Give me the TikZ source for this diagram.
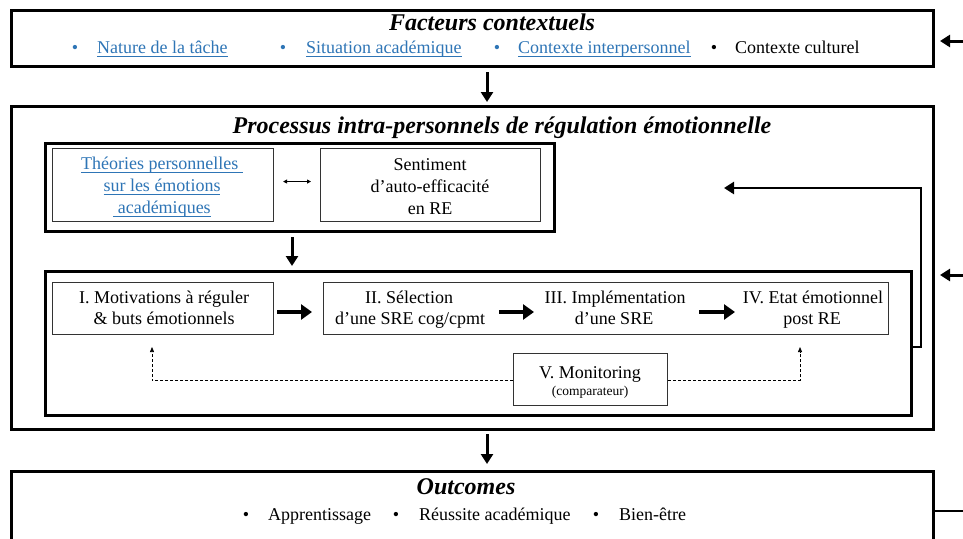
\documentclass[tikz,border=0pt]{standalone}
\usepackage{fontspec}
\setmainfont{Liberation Serif}
\usetikzlibrary{arrows.meta,calc}
\definecolor{linkblue}{RGB}{46,117,182}
\newcommand\ulb[1]{\underline{\smash{#1}\rule[-1.6pt]{0pt}{1pt}}}
\begin{document}
\begin{tikzpicture}[x=1pt,y=-1pt,
  bigbox/.style={draw, line width=2.7pt, anchor=north west, inner sep=0pt},
  grpbox/.style={draw, line width=2.5pt, anchor=north west, inner sep=0pt},
  thinbox/.style={draw=black!80, line width=1.1pt, anchor=north west, inner sep=0pt},
  body/.style={font=\fontsize{18}{22}\selectfont, inner sep=0pt, anchor=base},
  small/.style={font=\fontsize{13.5}{16}\selectfont, inner sep=0pt, anchor=base},
  ttl/.style={font=\fontsize{24}{28}\selectfont\bfseries\itshape, inner sep=0pt, anchor=base},
  blue/.style={text=linkblue},
  fatarrow/.style={line width=3pt, -{Triangle[length=10pt,width=12pt]}},
  rowarrow/.style={line width=4.2pt, -{Triangle[length=11pt,width=15pt]}},
  dasharrow/.style={line width=0.7pt, dash pattern=on 3pt off 2pt, -{Triangle[length=5pt,width=4pt]}},
  duoarrow/.style={line width=0.9pt, {Triangle[length=4pt,width=4pt]}-{Triangle[length=4pt,width=4pt]}},
  loopline/.style={line width=2.7pt},
]
\clip (0,0) rectangle (963,538);
\fill[white] (0,0) rectangle (963,538);

% ---------- Facteurs contextuels ----------
\node[bigbox, minimum width=922pt, minimum height=56pt] (top) at (10,9) {};
\node[ttl] (toptitle) at (492,30) {Facteurs contextuels};
\node[body, blue] (b1) at (75,53) {•};
\node[body, blue, anchor=base west] (t1) at (97,53) {\ulb{Nature de la tâche}};
\node[body, blue] (b2) at (283,53) {•};
\node[body, blue, anchor=base west] (t2) at (306,53) {\ulb{Situation académique}};
\node[body, blue] (b3) at (497,53) {•};
\node[body, blue, anchor=base west] (t3) at (518,53) {\ulb{Contexte interpersonnel}};
\node[body] (b4) at (714,53) {•};
\node[body, anchor=base west] (t4) at (735,53) {Contexte culturel};

% ---------- Processus ----------
\node[bigbox, minimum width=922pt, minimum height=323pt] (main) at (10,105) {};
\node[ttl] (maintitle) at (502,133) {Processus intra-personnels de régulation émotionnelle};

\node[grpbox, minimum width=509pt, minimum height=88pt] (grp1) at (44,142) {};
\node[thinbox, minimum width=221pt, minimum height=73pt] (theo) at (52,148) {};
\node[body, blue] (theo1) at (162,169) {\ulb{Théories personnelles\ }};
\node[body, blue] (theo2) at (162,191) {\ulb{sur les émotions}};
\node[body, blue] (theo3) at (162,213) {\ulb{\ académiques}};
\node[thinbox, minimum width=220pt, minimum height=73pt] (sent) at (320,148) {};
\node[body] (sent1) at (430,170) {Sentiment};
\node[body] (sent2) at (430,192) {d’auto-efficacité};
\node[body] (sent3) at (430,214) {en RE};
\draw[duoarrow] ([xshift=9pt,yshift=3.5pt]theo.east) -- ([xshift=-9pt,yshift=3.5pt]sent.west);

\coordinate (g1a) at (292,237);
\coordinate (g1b) at (292,266);
\draw[fatarrow] (g1a) -- (g1b);

\node[grpbox, minimum width=866pt, minimum height=144pt] (grp2) at (44,270) {};
\node[thinbox, minimum width=221pt, minimum height=52pt] (s1) at (52,282) {};
\node[body] (s1a) at (164,303) {I. Motivations à réguler};
\node[body] (s1b) at (164,324) {\& buts émotionnels};
\node[thinbox, minimum width=565pt, minimum height=52pt] (steps) at (323,282) {};
\node[body] (s2a) at (409,303) {II. Sélection};
\node[body] (s2b) at (410,324) {d’une SRE cog/cpmt};
\node[body] (s3a) at (615,303) {III. Implémentation};
\node[body] (s3b) at (614,324) {d’une SRE};
\node[body] (s4a) at (813,303) {IV. Etat émotionnel};
\node[body] (s4b) at (812,324) {post RE};

\coordinate (a1s) at (277,312);
\coordinate (a1e) at (312,312);
\draw[rowarrow] (a1s) -- (a1e);
\coordinate (a2s) at (499,312);
\coordinate (a2e) at (534,312);
\draw[rowarrow] (a2s) -- (a2e);
\coordinate (a3s) at (699,312);
\coordinate (a3e) at (735,312);
\draw[rowarrow] (a3s) -- (a3e);

\node[thinbox, minimum width=154pt, minimum height=52pt] (mon) at (513,353) {};
\node[body] (mon1) at (590,378) {V. Monitoring};
\node[small] (mon2) at (590,395) {(comparateur)};

\coordinate (d1) at (152,347);
\coordinate (d2) at (800,347);
\draw[dasharrow] ([yshift=-1pt]mon.west) -| (d1);
\draw[dasharrow] ([yshift=-1pt]mon.east) -| (d2);

% feedback loop inside Processus
\coordinate (fb0) at (910,347);
\coordinate (fb1) at (921,347);
\coordinate (fb2) at (921,188);
\coordinate (fb3) at (724,188);
\draw[loopline, line join=miter] (fb0) -- (fb1) -- (fb2) -- (740,188);
\draw[line width=2.7pt, -{Triangle[length=10pt,width=12pt]}] (742,188) -- (fb3);

% ---------- arrows between big boxes ----------
\coordinate (v1s) at (487,72);
\coordinate (v1e) at (487,102);
\draw[fatarrow] (v1s) -- (v1e);
\coordinate (v2s) at (487,434);
\coordinate (v2e) at (487,464);
\draw[fatarrow] (v2s) -- (v2e);

% ---------- Outcomes ----------
\node[bigbox, minimum width=922pt, minimum height=90pt] (out) at (10,470) {};
\node[ttl] (outtitle) at (466,494) {Outcomes};
\node[body] (o1) at (246,520) {•};
\node[body, anchor=base west] (o1t) at (268,520) {Apprentissage};
\node[body] (o2) at (396,520) {•};
\node[body, anchor=base west] (o2t) at (419,520) {Réussite académique};
\node[body] (o3) at (596,520) {•};
\node[body, anchor=base west] (o3t) at (619,520) {Bien-être};

% ---------- partial outer loop on the right ----------
\coordinate (r1s) at (966,41);
\coordinate (r1e) at (940,41);
\draw[fatarrow] (r1s) -- (r1e);
\coordinate (r2s) at (966,275);
\coordinate (r2e) at (940,275);
\draw[fatarrow] (r2s) -- (r2e);
\coordinate (r3) at (966,511);
\draw[loopline] (out.east |- r3) -- (r3);
\end{tikzpicture}
\end{document}
